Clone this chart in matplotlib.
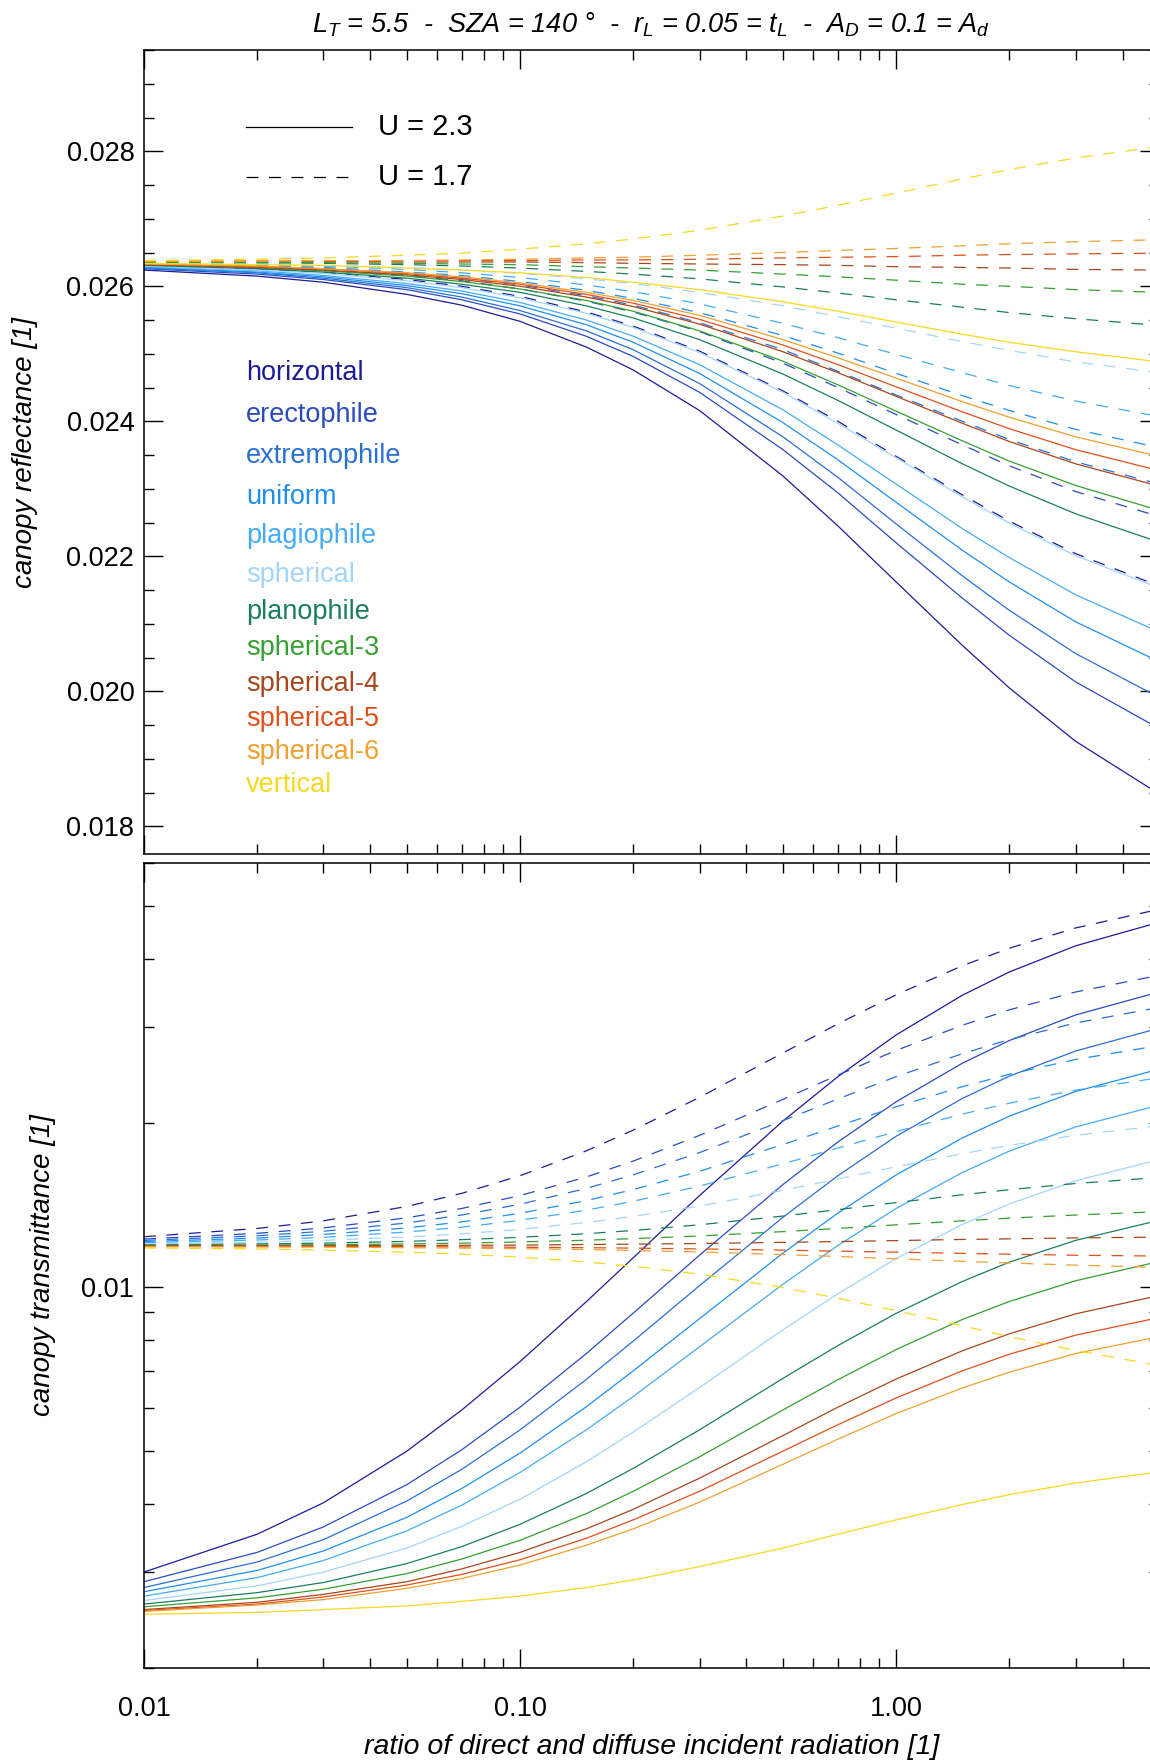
import numpy as np
import matplotlib
matplotlib.use('Agg')
import matplotlib.pyplot as plt
from matplotlib.ticker import MultipleLocator, NullFormatter, LogLocator

plt.rcParams['font.family'] = ['Liberation Sans', 'DejaVu Sans']
plt.rcParams['mathtext.fontset'] = 'custom'
plt.rcParams['mathtext.it'] = 'Liberation Sans:italic'
plt.rcParams['mathtext.rm'] = 'Liberation Sans:italic'

# ratio of direct and diffuse incident radiation
ratio = [0.01, 0.02, 0.03, 0.05, 0.07, 0.1, 0.15, 0.2, 0.3, 0.5, 0.7, 1.0, 1.5, 2.0, 3.0, 5.0]

names = ['horizontal', 'erectophile', 'extremophile', 'uniform', 'plagiophile', 'spherical',
         'planophile', 'spherical-3', 'spherical-4', 'spherical-5', 'spherical-6', 'vertical']
colors = ['#1c1c96', '#2a4bbf', '#2a6fd6', '#1e8ff0', '#45abf7', '#a3d5fb',
          '#1b7d5f', '#34a030', '#a8461c', '#e0501a', '#f0a030', '#f8d820']

# canopy reflectance, U = 2.3 (solid)
refl_u23 = [
    [0.02624, 0.02615, 0.02606, 0.02588, 0.02572, 0.02548, 0.02510, 0.02476, 0.02416, 0.02319, 0.02245, 0.02162, 0.02068, 0.02005, 0.01926, 0.01848],
    [0.02626, 0.02618, 0.02610, 0.02595, 0.02580, 0.02559, 0.02526, 0.02496, 0.02443, 0.02358, 0.02294, 0.02220, 0.02138, 0.02083, 0.02014, 0.01945],
    [0.02627, 0.02620, 0.02612, 0.02598, 0.02584, 0.02564, 0.02534, 0.02506, 0.02456, 0.02377, 0.02317, 0.02248, 0.02171, 0.02120, 0.02056, 0.01991],
    [0.02628, 0.02621, 0.02614, 0.02601, 0.02589, 0.02571, 0.02543, 0.02517, 0.02471, 0.02398, 0.02343, 0.02280, 0.02209, 0.02162, 0.02103, 0.02044],
    [0.02629, 0.02623, 0.02616, 0.02604, 0.02593, 0.02576, 0.02550, 0.02526, 0.02484, 0.02417, 0.02365, 0.02307, 0.02241, 0.02198, 0.02143, 0.02088],
    [0.02630, 0.02624, 0.02619, 0.02608, 0.02598, 0.02583, 0.02560, 0.02539, 0.02502, 0.02443, 0.02397, 0.02346, 0.02288, 0.02249, 0.02201, 0.02153],
    [0.02631, 0.02626, 0.02621, 0.02612, 0.02603, 0.02591, 0.02571, 0.02553, 0.02521, 0.02470, 0.02431, 0.02387, 0.02337, 0.02304, 0.02263, 0.02221],
    [0.02632, 0.02628, 0.02623, 0.02615, 0.02607, 0.02596, 0.02579, 0.02563, 0.02534, 0.02489, 0.02454, 0.02415, 0.02371, 0.02341, 0.02305, 0.02268],
    [0.02632, 0.02628, 0.02624, 0.02617, 0.02610, 0.02600, 0.02584, 0.02570, 0.02544, 0.02503, 0.02472, 0.02437, 0.02397, 0.02370, 0.02337, 0.02304],
    [0.02633, 0.02629, 0.02626, 0.02619, 0.02612, 0.02603, 0.02588, 0.02575, 0.02551, 0.02513, 0.02484, 0.02451, 0.02414, 0.02389, 0.02358, 0.02327],
    [0.02633, 0.02630, 0.02626, 0.02620, 0.02614, 0.02605, 0.02591, 0.02579, 0.02557, 0.02521, 0.02494, 0.02464, 0.02429, 0.02406, 0.02377, 0.02348],
    [0.02634, 0.02632, 0.02631, 0.02627, 0.02624, 0.02620, 0.02613, 0.02606, 0.02595, 0.02577, 0.02563, 0.02547, 0.02529, 0.02517, 0.02503, 0.02488],
]

# canopy reflectance, U = 1.7 (dashed)
refl_u17 = [
    [0.02632, 0.02626, 0.02621, 0.02610, 0.02600, 0.02585, 0.02562, 0.02541, 0.02504, 0.02445, 0.02400, 0.02348, 0.02291, 0.02252, 0.02204, 0.02156],
    [0.02633, 0.02629, 0.02624, 0.02616, 0.02608, 0.02596, 0.02578, 0.02562, 0.02533, 0.02486, 0.02450, 0.02410, 0.02365, 0.02334, 0.02296, 0.02259],
    [0.02634, 0.02630, 0.02626, 0.02619, 0.02612, 0.02602, 0.02586, 0.02572, 0.02546, 0.02506, 0.02474, 0.02439, 0.02400, 0.02373, 0.02340, 0.02307],
    [0.02634, 0.02631, 0.02628, 0.02621, 0.02616, 0.02607, 0.02594, 0.02582, 0.02561, 0.02527, 0.02501, 0.02471, 0.02438, 0.02416, 0.02388, 0.02361],
    [0.02635, 0.02632, 0.02630, 0.02625, 0.02620, 0.02613, 0.02602, 0.02592, 0.02574, 0.02545, 0.02524, 0.02499, 0.02472, 0.02453, 0.02430, 0.02407],
    [0.02635, 0.02633, 0.02631, 0.02628, 0.02624, 0.02619, 0.02611, 0.02604, 0.02591, 0.02571, 0.02555, 0.02538, 0.02518, 0.02505, 0.02488, 0.02472],
    [0.02636, 0.02635, 0.02634, 0.02632, 0.02630, 0.02627, 0.02622, 0.02618, 0.02611, 0.02599, 0.02590, 0.02580, 0.02569, 0.02561, 0.02552, 0.02542],
    [0.02636, 0.02635, 0.02635, 0.02634, 0.02633, 0.02632, 0.02629, 0.02627, 0.02624, 0.02618, 0.02614, 0.02609, 0.02603, 0.02600, 0.02595, 0.02591],
    [0.02637, 0.02637, 0.02637, 0.02636, 0.02636, 0.02636, 0.02635, 0.02634, 0.02633, 0.02632, 0.02631, 0.02629, 0.02628, 0.02627, 0.02625, 0.02624],
    [0.02637, 0.02637, 0.02637, 0.02638, 0.02638, 0.02638, 0.02639, 0.02639, 0.02640, 0.02642, 0.02643, 0.02644, 0.02646, 0.02647, 0.02648, 0.02649],
    [0.02637, 0.02637, 0.02638, 0.02638, 0.02639, 0.02640, 0.02642, 0.02643, 0.02646, 0.02650, 0.02653, 0.02656, 0.02660, 0.02663, 0.02666, 0.02669],
    [0.02638, 0.02640, 0.02642, 0.02646, 0.02649, 0.02655, 0.02663, 0.02670, 0.02683, 0.02704, 0.02720, 0.02738, 0.02759, 0.02773, 0.02790, 0.02807],
]

# canopy transmittance, U = 2.3 (solid)
trans_u23 = [
    [0.00300, 0.00352, 0.00402, 0.00500, 0.00595, 0.00730, 0.00940, 0.01132, 0.01472, 0.02017, 0.02433, 0.02902, 0.03432, 0.03786, 0.04228, 0.04670],
    [0.00288, 0.00326, 0.00363, 0.00434, 0.00503, 0.00602, 0.00755, 0.00896, 0.01144, 0.01542, 0.01846, 0.02188, 0.02575, 0.02834, 0.03157, 0.03479],
    [0.00281, 0.00313, 0.00344, 0.00405, 0.00463, 0.00547, 0.00677, 0.00796, 0.01006, 0.01343, 0.01601, 0.01891, 0.02219, 0.02438, 0.02711, 0.02985],
    [0.00276, 0.00302, 0.00328, 0.00378, 0.00427, 0.00496, 0.00603, 0.00702, 0.00875, 0.01154, 0.01367, 0.01606, 0.01878, 0.02059, 0.02285, 0.02511],
    [0.00271, 0.00293, 0.00315, 0.00357, 0.00398, 0.00457, 0.00547, 0.00630, 0.00777, 0.01012, 0.01192, 0.01394, 0.01623, 0.01776, 0.01967, 0.02157],
    [0.00266, 0.00283, 0.00300, 0.00332, 0.00364, 0.00408, 0.00478, 0.00542, 0.00654, 0.00835, 0.00972, 0.01128, 0.01303, 0.01421, 0.01567, 0.01713],
    [0.00262, 0.00275, 0.00287, 0.00311, 0.00334, 0.00367, 0.00418, 0.00465, 0.00547, 0.00680, 0.00781, 0.00895, 0.01024, 0.01111, 0.01218, 0.01326],
    [0.00259, 0.00269, 0.00279, 0.00298, 0.00317, 0.00343, 0.00384, 0.00422, 0.00488, 0.00595, 0.00676, 0.00768, 0.00872, 0.00941, 0.01027, 0.01114],
    [0.00256, 0.00264, 0.00273, 0.00288, 0.00304, 0.00326, 0.00360, 0.00391, 0.00446, 0.00534, 0.00602, 0.00678, 0.00764, 0.00821, 0.00893, 0.00965],
    [0.00255, 0.00262, 0.00270, 0.00284, 0.00297, 0.00316, 0.00346, 0.00374, 0.00422, 0.00500, 0.00559, 0.00626, 0.00702, 0.00753, 0.00816, 0.00879],
    [0.00254, 0.00261, 0.00267, 0.00280, 0.00292, 0.00309, 0.00336, 0.00360, 0.00403, 0.00473, 0.00526, 0.00586, 0.00653, 0.00698, 0.00755, 0.00811],
    [0.00251, 0.00253, 0.00256, 0.00260, 0.00265, 0.00271, 0.00281, 0.00290, 0.00307, 0.00332, 0.00352, 0.00374, 0.00399, 0.00416, 0.00437, 0.00458],
]

# canopy transmittance, U = 1.7 (dashed)
trans_u17 = [
    [0.01237, 0.01281, 0.01323, 0.01406, 0.01486, 0.01601, 0.01778, 0.01941, 0.02229, 0.02689, 0.03041, 0.03438, 0.03887, 0.04186, 0.04560, 0.04934],
    [0.01225, 0.01255, 0.01284, 0.01340, 0.01394, 0.01472, 0.01592, 0.01703, 0.01898, 0.02210, 0.02449, 0.02718, 0.03023, 0.03226, 0.03479, 0.03733],
    [0.01218, 0.01242, 0.01266, 0.01311, 0.01356, 0.01419, 0.01517, 0.01607, 0.01765, 0.02020, 0.02214, 0.02433, 0.02681, 0.02846, 0.03052, 0.03259],
    [0.01212, 0.01230, 0.01249, 0.01284, 0.01317, 0.01366, 0.01441, 0.01510, 0.01631, 0.01826, 0.01975, 0.02142, 0.02332, 0.02458, 0.02616, 0.02774],
    [0.01206, 0.01220, 0.01234, 0.01262, 0.01288, 0.01326, 0.01384, 0.01437, 0.01532, 0.01683, 0.01799, 0.01929, 0.02077, 0.02175, 0.02298, 0.02421],
    [0.01200, 0.01209, 0.01218, 0.01236, 0.01252, 0.01276, 0.01314, 0.01348, 0.01408, 0.01505, 0.01579, 0.01663, 0.01757, 0.01820, 0.01899, 0.01977],
    [0.01195, 0.01200, 0.01204, 0.01213, 0.01222, 0.01234, 0.01253, 0.01270, 0.01301, 0.01350, 0.01387, 0.01429, 0.01477, 0.01509, 0.01549, 0.01589],
    [0.01192, 0.01194, 0.01196, 0.01200, 0.01204, 0.01210, 0.01219, 0.01227, 0.01241, 0.01264, 0.01281, 0.01301, 0.01323, 0.01338, 0.01356, 0.01375],
    [0.01190, 0.01191, 0.01191, 0.01192, 0.01193, 0.01194, 0.01197, 0.01199, 0.01202, 0.01208, 0.01212, 0.01217, 0.01223, 0.01226, 0.01231, 0.01235],
    [0.01188, 0.01187, 0.01187, 0.01186, 0.01185, 0.01183, 0.01181, 0.01179, 0.01175, 0.01169, 0.01164, 0.01159, 0.01153, 0.01149, 0.01144, 0.01140],
    [0.01186, 0.01185, 0.01184, 0.01181, 0.01179, 0.01176, 0.01172, 0.01167, 0.01160, 0.01147, 0.01138, 0.01127, 0.01115, 0.01107, 0.01097, 0.01087],
    [0.01180, 0.01175, 0.01169, 0.01159, 0.01149, 0.01135, 0.01112, 0.01092, 0.01056, 0.00998, 0.00954, 0.00905, 0.00849, 0.00811, 0.00765, 0.00718],
]

xticks = [0.01, 0.1, 1.0]
xticklabels = ['0.01', '0.10', '1.00']

LW = 0.9
DASH = (9.5, 8.5)
FS = 19.5

fig = plt.figure(figsize=(11.5, 17.64), dpi=100)
ax1 = fig.add_axes([144/1150, 1-854/1764, 1015/1150, 804/1764])
ax2 = fig.add_axes([144/1150, 1-1668/1764, 1015/1150, 805/1764])

for i in range(len(names)):
    ax1.plot(ratio, refl_u17[i], color=colors[i], lw=LW, dashes=DASH)
    ax1.plot(ratio, refl_u23[i], color=colors[i], lw=LW)
    ax2.plot(ratio, trans_u17[i], color=colors[i], lw=LW, dashes=DASH)
    ax2.plot(ratio, trans_u23[i], color=colors[i], lw=LW)

for ax in (ax1, ax2):
    ax.set_xscale('log')
    ax.set_xlim(0.01, 5)
    ax.set_xticks(xticks)
    ax.xaxis.set_minor_locator(LogLocator(base=10, subs=np.arange(2, 10)))
    ax.xaxis.set_minor_formatter(NullFormatter())
    ax.tick_params(which='both', direction='in', top=True, right=True, labelsize=FS)
    ax.tick_params(which='major', length=14, width=1.0)
    ax.tick_params(which='minor', length=7, width=1.0)
    for s in ax.spines.values():
        s.set_linewidth(1.1)

# top panel: reflectance
ax1.set_ylim(0.01759, 0.0295)
ax1.yaxis.set_minor_locator(MultipleLocator(0.0005))
ax1.set_yticks([0.018, 0.020, 0.022, 0.024, 0.026, 0.028])
ax1.set_yticklabels(['0.018', '0.020', '0.022', '0.024', '0.026', '0.028'])
ax1.tick_params(labelbottom=False, pad=7)
ax1.set_ylabel('canopy reflectance [1]', fontsize=20, style='italic')
ax1.yaxis.set_label_coords(-0.104, 0.5)

# line style key
ax1.plot([0.1005, 0.2049], [0.9040, 0.9040], color='black', lw=LW, transform=ax1.transAxes)
ax1.plot([0.1005, 0.2049], [0.8425, 0.8425], color='black', lw=LW, dashes=DASH, transform=ax1.transAxes)
ax1.text(0.2305, 0.9040, 'U = 2.3', fontsize=21, va='center', transform=ax1.transAxes)
ax1.text(0.2305, 0.8425, 'U = 1.7', fontsize=21, va='center', transform=ax1.transAxes)

# leaf angle names
name_y = [0.5982, 0.5460, 0.4950, 0.4440, 0.3955, 0.3470, 0.3010, 0.2562, 0.2114, 0.1679, 0.1269, 0.0858]
for i in range(len(names)):
    ax1.text(0.1005, name_y[i], names[i], color=colors[i], fontsize=FS, va='center', transform=ax1.transAxes)

# bottom panel: transmittance
ax2.set_yscale('log')
ax2.set_ylim(0.002, 0.06)
ax2.set_yticks([0.01])
ax2.set_yticklabels(['0.01'])
ax2.yaxis.set_minor_locator(LogLocator(base=10, subs=np.arange(2, 10)))
ax2.yaxis.set_minor_formatter(NullFormatter())
ax2.set_xticklabels(xticklabels)
ax2.tick_params(axis='y', pad=7)
ax2.tick_params(axis='x', pad=20)
ax2.set_ylabel('canopy transmittance [1]', fontsize=20, style='italic')
ax2.yaxis.set_label_coords(-0.087, 0.5)
ax2.set_xlabel('ratio of direct and diffuse incident radiation [1]', fontsize=20.5, style='italic')
ax2.xaxis.set_label_coords(0.5, -0.0985)
ax2.xaxis.label.set_va('center')

fig.text(651/1150, 1-25/1764,
         r'$L_T$ = 5.5  -  SZA = 140 °  -  $r_L$ = 0.05 = $t_L$  -  $A_D$ = 0.1 = $A_d$',
         fontsize=19.5, style='italic', ha='center', va='center')

plt.savefig('out.png', dpi=100)
